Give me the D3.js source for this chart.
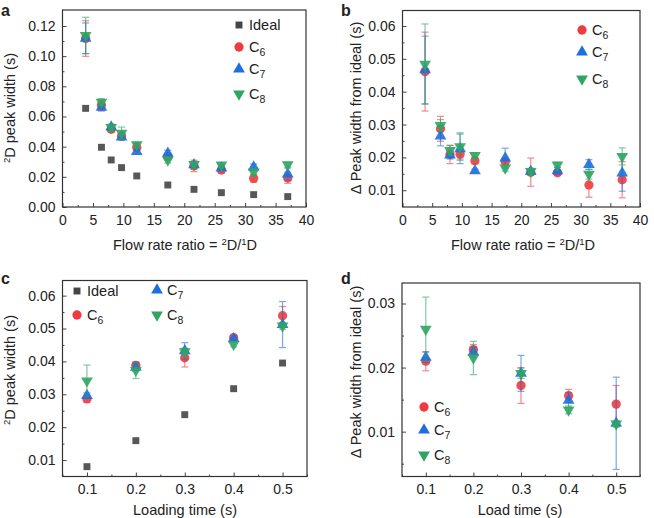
<!DOCTYPE html>
<html>
<head>
<meta charset="utf-8">
<script src="https://cdn.jsdelivr.net/npm/d3@7"></script>
<style>
  body { margin: 0; background: #fff; }
  text { font-family: "Liberation Sans", Arial, sans-serif; fill: #222; }
  .tick text { font-size: 14px; }
  .axisTitle { font-size: 14.5px; }
  .legendText { font-size: 14.5px; }
  .panelLetter { font-size: 16px; font-weight: bold; }
</style>
</head>
<body>
<div id="chart"></div>
<script>
// Flow rate ratio panels (a, b)
const flowRatio = [3.8, 6.4, 8.0, 9.7, 12.2, 17.3, 21.6, 26.1, 31.4, 37.0];

const aIdeal = [0.0654, 0.0396, 0.0312, 0.0261, 0.0206, 0.0146, 0.0117, 0.0095, 0.0082, 0.0069];
const aC6 = [0.1117, 0.0676, 0.0515, 0.0470, 0.0395, 0.0333, 0.0272, 0.0245, 0.0190, 0.0192];
const aC6err = [0.0118, 0.0040, 0.0020, 0.0020, 0.0020, 0.0020, 0.0038, 0.0020, 0.0025, 0.0035];
const aC7 = [0.1118, 0.0660, 0.0530, 0.0464, 0.0367, 0.0356, 0.0280, 0.0258, 0.0265, 0.0218];
const aC7err = [0.0102, 0.0020, 0.0020, 0.0020, 0.0015, 0.0020, 0.0020, 0.0015, 0.0020, 0.0040];
const aC8 = [0.1138, 0.0695, 0.0528, 0.0490, 0.0414, 0.0312, 0.0282, 0.0279, 0.0232, 0.0281];
const aC8err = [0.0120, 0.0020, 0.0015, 0.0040, 0.0015, 0.0020, 0.0015, 0.0015, 0.0020, 0.0015];

const bC6 = [0.0461, 0.0287, 0.0209, 0.0210, 0.0190, 0.0187, 0.0155, 0.0153, 0.0116, 0.0132];
const bC6err = [0.0120, 0.0038, 0.0028, 0.0015, 0.0010, 0.0010, 0.0043, 0.0008, 0.0037, 0.0055];
const bC7 = [0.0466, 0.0265, 0.0207, 0.0226, 0.0159, 0.0198, 0.0157, 0.0159, 0.0178, 0.0152];
const bC7err = [0.0103, 0.0030, 0.0012, 0.0045, 0.0005, 0.0030, 0.0010, 0.0010, 0.0015, 0.0055];
const bC8 = [0.0484, 0.0297, 0.0221, 0.0233, 0.0206, 0.0168, 0.0157, 0.0177, 0.0149, 0.0203];
const bC8err = [0.0122, 0.0018, 0.0015, 0.0042, 0.0008, 0.0010, 0.0008, 0.0008, 0.0015, 0.0026];

// Loading time panels (c, d)
const loadTime = [0.1, 0.2, 0.3, 0.4, 0.5];

const cIdeal = [0.0080, 0.0159, 0.0238, 0.0317, 0.0395];
const cC6 = [0.0286, 0.0388, 0.0411, 0.0472, 0.0539];
const cC6err = [0.0010, 0.0010, 0.0028, 0.0008, 0.0028];
const cC7 = [0.0296, 0.0382, 0.0432, 0.0469, 0.0512];
const cC7err = [0.0008, 0.0012, 0.0025, 0.0010, 0.0070];
const cC8 = [0.0341, 0.0373, 0.0430, 0.0452, 0.0508];
const cC8err = [0.0048, 0.0025, 0.0010, 0.0008, 0.0010];

const dC6 = [0.0210, 0.0228, 0.0172, 0.0156, 0.0143];
const dC6err = [0.0015, 0.0008, 0.0028, 0.0010, 0.0029];
const dC7 = [0.0216, 0.0224, 0.0191, 0.0149, 0.0113];
const dC7err = [0.0008, 0.0008, 0.0028, 0.0012, 0.0072];
const dC8 = [0.0260, 0.0215, 0.0191, 0.0134, 0.0112];
const dC8err = [0.0050, 0.0026, 0.0008, 0.0006, 0.0005];

// series styles
const styles = {
  Ideal: { color: "#454545", shape: d3.symbolSquare, size: 48, rot: 0 },
  C6: { color: "#ef3b3f", shape: d3.symbolCircle, size: 68, rot: 0 },
  C7: { color: "#1d6fdd", shape: d3.symbolTriangle, size: 60, rot: 0 },
  C8: { color: "#2fa563", shape: d3.symbolTriangle, size: 60, rot: 180 }
};

const svgWidth = 654;
const svgHeight = 518;

const svg = d3.select("#chart")
  .append("svg")
  .attr("width", svgWidth)
  .attr("height", svgHeight);

function drawPanel(p) {
  const x = d3.scaleLinear().domain(p.xDomain).range([p.left, p.right]);
  const y = d3.scaleLinear().domain(p.yDomain).range([p.bottom, p.top]);
  const g = svg.append("g");

  // minor ticks
  const bottomMinor = d3.axisBottom(x).tickValues(p.xMinor).tickSize(-2).tickFormat("");
  const leftMinor = d3.axisLeft(y).tickValues(p.yMinor).tickSize(-2).tickFormat("");
  g.append("g").attr("transform", `translate(0, ${p.bottom})`).call(bottomMinor);
  g.append("g").attr("transform", `translate(${p.left}, 0)`).call(leftMinor);

  // major ticks, pointing inward
  const bottomAxis = d3.axisBottom(x).tickValues(p.xTicks).tickSize(-4)
    .tickPadding(8).tickFormat(p.xFormat);
  const leftAxis = d3.axisLeft(y).tickValues(p.yTicks).tickSize(-4)
    .tickPadding(7).tickFormat(d3.format(".2f"));
  g.append("g").attr("transform", `translate(0, ${p.bottom})`).call(bottomAxis);
  g.append("g").attr("transform", `translate(${p.left}, 0)`).call(leftAxis);

  g.selectAll(".domain").remove();
  g.selectAll(".tick line").attr("stroke", "#444");
  g.selectAll(".tick text").attr("fill", "#222");

  // frame
  g.append("rect")
    .attr("x", p.left).attr("y", p.top)
    .attr("width", p.right - p.left).attr("height", p.bottom - p.top)
    .attr("fill", "none").attr("stroke", "#333").attr("stroke-width", 1.2);

  // error bars then markers for each series
  p.series.forEach(s => {
    const st = styles[s.name];
    const pts = p.xs.map((xv, i) => ({ x: xv, y: s.values[i], e: s.err ? s.err[i] : 0 }));

    if (s.err) {
      const eb = g.append("g").attr("stroke", st.color).attr("stroke-width", 1.2).attr("opacity", 0.6);
      pts.forEach(d => {
        const cx = x(d.x);
        eb.append("line").attr("x1", cx).attr("x2", cx)
          .attr("y1", y(d.y - d.e)).attr("y2", y(d.y + d.e));
        [d.y - d.e, d.y + d.e].forEach(v => {
          eb.append("line").attr("x1", cx - 3.5).attr("x2", cx + 3.5)
            .attr("y1", y(v)).attr("y2", y(v));
        });
      });
    }

    g.append("g").selectAll("path")
      .data(pts)
      .enter()
      .append("path")
      .attr("d", d3.symbol().type(st.shape).size(st.size))
      .attr("transform", d => `translate(${x(d.x)}, ${y(d.y)}) rotate(${st.rot})`)
      .attr("fill", st.color)
      .attr("opacity", 0.9);
  });

  // legend
  p.legend.forEach(l => {
    const st = styles[l.name];
    g.append("path")
      .attr("d", d3.symbol().type(st.shape).size(st.size))
      .attr("transform", `translate(${l.x}, ${l.y}) rotate(${st.rot})`)
      .attr("fill", st.color);
    const t = g.append("text").attr("class", "legendText")
      .attr("x", l.x + 10).attr("y", l.y + 5);
    if (l.name === "Ideal") {
      t.text("Ideal");
    } else {
      t.append("tspan").text("C");
      t.append("tspan").attr("dy", 4).attr("font-size", 10.5).text(l.name.slice(1));
    }
  });

  // axis titles
  const xt = g.append("text").attr("class", "axisTitle")
    .attr("text-anchor", "middle")
    .attr("x", p.xTitlePos[0]).attr("y", p.xTitlePos[1]);
  p.xTitle.forEach(part => {
    const ts = xt.append("tspan").text(part.t);
    if (part.sup) ts.attr("baseline-shift", "super").attr("font-size", 9.5);
  });

  const yt = g.append("text").attr("class", "axisTitle")
    .attr("text-anchor", "middle")
    .attr("transform", `translate(${p.yTitlePos[0]}, ${p.yTitlePos[1]}) rotate(-90)`);
  p.yTitle.forEach(part => {
    const ts = yt.append("tspan").text(part.t);
    if (part.sup) ts.attr("baseline-shift", "super").attr("font-size", 9.5);
  });

  g.append("text").attr("class", "panelLetter")
    .attr("x", p.letterPos[0]).attr("y", p.letterPos[1]).text(p.letter);
}

const flowTitle = [{ t: "Flow rate ratio = " }, { t: "2", sup: true }, { t: "D/" }, { t: "1", sup: true }, { t: "D" }];
const peakTitle = [{ t: "2", sup: true }, { t: "D peak width (s)" }];
const deltaTitle = [{ t: "\u0394 Peak width from ideal (s)" }];

const flowTicks = d3.range(0, 41, 5);
const flowMinor = d3.range(2.5, 40, 5);
const timeTicks = [0.1, 0.2, 0.3, 0.4, 0.5];
const timeMinor = [0.05, 0.15, 0.25, 0.35, 0.45, 0.55];

drawPanel({
  letter: "a", letterPos: [1, 16],
  left: 62.5, right: 306, top: 10, bottom: 207,
  xDomain: [0, 40], yDomain: [0, 0.1306],
  xTicks: flowTicks, xMinor: flowMinor, xFormat: d3.format("d"),
  yTicks: d3.range(0, 0.121, 0.02), yMinor: d3.range(0.01, 0.13, 0.02),
  xs: flowRatio,
  series: [
    { name: "Ideal", values: aIdeal },
    { name: "C6", values: aC6, err: aC6err },
    { name: "C7", values: aC7, err: aC7err },
    { name: "C8", values: aC8, err: aC8err }
  ],
  legend: [
    { name: "Ideal", x: 239, y: 25 }, { name: "C6", x: 239, y: 47 },
    { name: "C7", x: 239, y: 69 }, { name: "C8", x: 239, y: 94 }
  ],
  xTitle: flowTitle, xTitlePos: [185, 250],
  yTitle: peakTitle, yTitlePos: [15, 108]
});

drawPanel({
  letter: "b", letterPos: [341, 16],
  left: 402.5, right: 640, top: 10.5, bottom: 207,
  xDomain: [0, 40], yDomain: [0.0049, 0.0647],
  xTicks: flowTicks, xMinor: flowMinor, xFormat: d3.format("d"),
  yTicks: [0.01, 0.02, 0.03, 0.04, 0.05, 0.06], yMinor: [0.015, 0.025, 0.035, 0.045, 0.055],
  xs: flowRatio,
  series: [
    { name: "C6", values: bC6, err: bC6err },
    { name: "C7", values: bC7, err: bC7err },
    { name: "C8", values: bC8, err: bC8err }
  ],
  legend: [
    { name: "C6", x: 582, y: 30 }, { name: "C7", x: 582, y: 52 }, { name: "C8", x: 582, y: 79 }
  ],
  xTitle: flowTitle, xTitlePos: [523, 250],
  yTitle: deltaTitle, yTitlePos: [361, 108]
});

drawPanel({
  letter: "c", letterPos: [1, 284],
  left: 62.5, right: 307, top: 280.5, bottom: 476.5,
  xDomain: [0.05, 0.55], yDomain: [0.005, 0.0646],
  xTicks: timeTicks, xMinor: timeMinor, xFormat: d3.format(".1f"),
  yTicks: [0.01, 0.02, 0.03, 0.04, 0.05, 0.06], yMinor: [0.015, 0.025, 0.035, 0.045, 0.055],
  xs: loadTime,
  series: [
    { name: "Ideal", values: cIdeal },
    { name: "C6", values: cC6, err: cC6err },
    { name: "C7", values: cC7, err: cC7err },
    { name: "C8", values: cC8, err: cC8err }
  ],
  legend: [
    { name: "Ideal", x: 77, y: 291 }, { name: "C6", x: 77, y: 315 },
    { name: "C7", x: 157, y: 290 }, { name: "C8", x: 157, y: 315 }
  ],
  xTitle: [{ t: "Loading time (s)" }], xTitlePos: [185, 515],
  yTitle: peakTitle, yTitlePos: [15, 370]
});

drawPanel({
  letter: "d", letterPos: [341, 284],
  left: 402, right: 640, top: 283, bottom: 476.5,
  xDomain: [0.05, 0.55], yDomain: [0.003, 0.0332],
  xTicks: timeTicks, xMinor: timeMinor, xFormat: d3.format(".1f"),
  yTicks: [0.01, 0.02, 0.03], yMinor: [0.005, 0.015, 0.025],
  xs: loadTime,
  series: [
    { name: "C6", values: dC6, err: dC6err },
    { name: "C7", values: dC7, err: dC7err },
    { name: "C8", values: dC8, err: dC8err }
  ],
  legend: [
    { name: "C6", x: 424, y: 407 }, { name: "C7", x: 424, y: 430 }, { name: "C8", x: 424, y: 455 }
  ],
  xTitle: [{ t: "Load time (s)" }], xTitlePos: [520, 515],
  yTitle: deltaTitle, yTitlePos: [361, 372]
});
</script>
</body>
</html>
